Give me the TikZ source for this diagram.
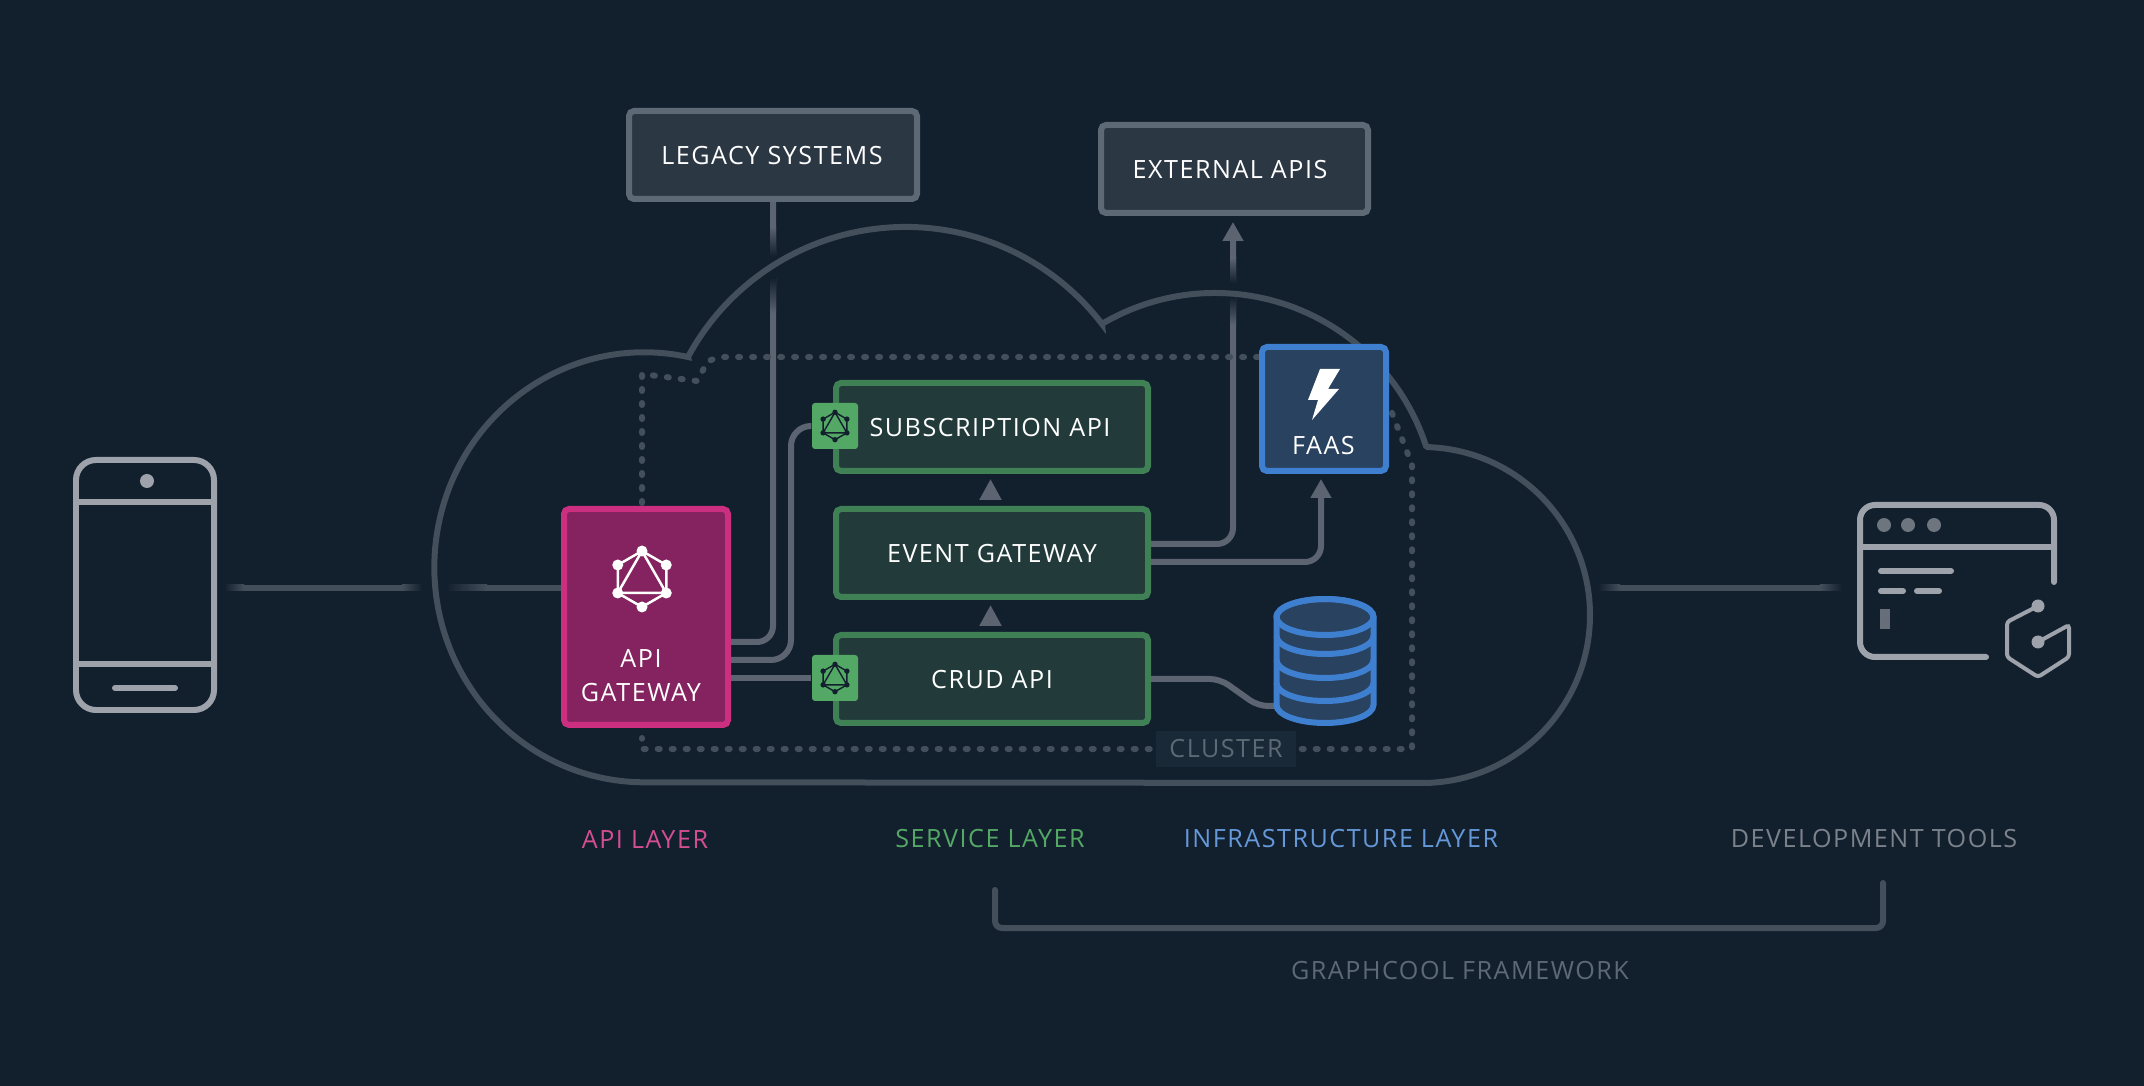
\documentclass[tikz,border=0pt]{standalone}
\usepackage{xcolor}
\usepackage{fontspec}
\usepackage{tikz}
\usetikzlibrary{arrows.meta,calc,backgrounds}
\setmainfont[LetterSpace=6]{Open Sans}

\definecolor{bgdark}{HTML}{121F2D}
\definecolor{edgegray}{HTML}{434F5A}
\definecolor{wiregray}{HTML}{5B6470}
\definecolor{icongray}{HTML}{9EA3AB}
\definecolor{svcline}{HTML}{3F8155}
\definecolor{svcfill}{HTML}{223B3A}
\definecolor{badgegreen}{HTML}{54A866}
\definecolor{apiline}{HTML}{CC2F80}
\definecolor{apifill}{HTML}{842360}
\definecolor{infraline}{HTML}{3F7FCF}
\definecolor{infrafill}{HTML}{29425F}
\definecolor{extline}{HTML}{5D6A75}
\definecolor{extfill}{HTML}{2C3744}
\definecolor{clusterfill}{HTML}{1A2937}

\begin{document}
\begin{tikzpicture}[
  font=\fontsize{7.15}{9.7}\selectfont, >={Triangle[length=0.19cm,width=0.2cm]},
  svcbox/.style={draw=svcline, fill=svcfill, line width=0.06cm, rounded corners=0.05cm, text=white,
                 minimum width=3.12cm, minimum height=0.88cm, inner sep=0pt},
  extbox/.style={draw=extline, fill=extfill, line width=0.06cm, rounded corners=0.05cm, text=white,
                 minimum height=0.88cm, inner sep=0pt},
  apibox/.style={draw=apiline, fill=apifill, line width=0.06cm, rounded corners=0.05cm,
                 minimum width=1.64cm, minimum height=2.16cm},
  faasbox/.style={draw=infraline, fill=infrafill, line width=0.06cm, rounded corners=0.05cm,
                 minimum width=1.24cm, minimum height=1.24cm},
  badge/.style={fill=badgegreen, rounded corners=0.03cm, minimum width=0.46cm, minimum height=0.46cm, inner sep=0pt},
  boxtext/.style={text=white, align=center, inner sep=0pt},
  layer/.style={inner sep=0pt},
  wire/.style={draw=wiregray, line width=0.06cm},
  hop/.style={draw=wiregray, line width=0.06cm, -{Triangle[length=0.21cm,width=0.21cm]}, shorten <=0.07cm, shorten >=0.05cm},
  edgeline/.style={draw=edgegray, line width=0.06cm},
  cloudline/.style={draw=edgegray, line width=0.06cm, miter limit=10},
  dotline/.style={draw=edgegray, line width=0.06cm, line cap=round, dash pattern=on 0.02cm off 0.12cm},
  icon/.style={draw=icongray, line width=0.06cm, line cap=round},
  dbline/.style={draw=infraline, line width=0.06cm},
  qlbig/.style={white, line width=0.025cm},
  qlsmall/.style={bgdark, line width=0.014cm, scale=0.49},
  qlmark/.pic={
    \draw (90:0.28) -- (30:0.28) -- (-30:0.28) -- (-90:0.28) -- (-150:0.28) -- (150:0.28) -- cycle;
    \draw (90:0.28) -- (-30:0.28) -- (-150:0.28) -- cycle;
    \fill (90:0.28) circle (0.055) (30:0.28) circle (0.055) (-30:0.28) circle (0.055)
          (-90:0.28) circle (0.055) (-150:0.28) circle (0.055) (150:0.28) circle (0.055);
  },
]
% nodes
\node[draw=icongray, line width=0.06cm, rounded corners=0.2cm, minimum width=1.38cm, minimum height=2.5cm] (phone) at (1.45,-5.85) {};
\node[apibox]  (gateway) at (6.46,-6.17) {};
\node[svcbox]  (sub)  at (9.92,-4.27) {};
\node[svcbox]  (evt)  at (9.92,-5.53) {};
\node[svcbox]  (crud) at (9.92,-6.79) {};
\node[extbox, minimum width=2.88cm] (legacy) at (7.73,-1.55) {};
\node[extbox, minimum width=2.67cm] (ext)    at (12.345,-1.69) {};
\node[faasbox] (faas) at (13.24,-4.09) {};
\node[badge]   (subbadge)  at (8.35,-4.26) {};
\node[badge]   (crudbadge) at (8.35,-6.78) {};
\node[minimum width=0.97cm, minimum height=1.2cm, inner sep=0pt] (db) at (13.25,-6.6) {};

\coordinate (phoneport) at (2.24,-5.88);
\coordinate (cloudport) at (15.98,-5.88);
\coordinate (toolsport) at (18.42,-5.88);
\coordinate (braceleft) at (9.95,-8.9);
\coordinate (braceright) at (18.83,-8.83);

\begin{scope}[on background layer]
\path[use as bounding box, fill=bgdark] (0,0) rectangle (21.44,-10.86);

% connectors
\draw[edgeline] (phoneport) -- (gateway.west |- phoneport);
\draw[edgeline] (cloudport) -- (toolsport);
\draw[wire, rounded corners=0.16cm] (legacy.south) |- ([yshift=-0.25cm]gateway.east);
\draw[wire, rounded corners=0.2cm] ([yshift=-0.43cm]gateway.east) -- (7.91,-6.6) -- (7.91,-4.26) -- (subbadge.west);
\draw[wire] ([yshift=-0.61cm]gateway.east) -- (crudbadge.west);
\draw[wire, rounded corners=0.16cm, ->, shorten >=0.06cm] ([yshift=0.09cm]evt.east) -| ([xshift=-0.015cm]ext.south);
\draw[wire, rounded corners=0.16cm, ->, shorten >=0.05cm] ([yshift=-0.09cm]evt.east) -| ([xshift=-0.03cm]faas.south);
\draw[wire, rounded corners=0.1cm] (crud.east) -- (12.2,-6.79) -- (12.58,-7.06) -- (db.west |- 0,-7.06);
\draw[hop] ([xshift=-0.015cm]crud.north) -- ([xshift=-0.015cm]evt.south);
\draw[hop] ([xshift=-0.015cm]evt.north) -- ([xshift=-0.015cm]sub.south);

% fades where the lines cross the cloud
\shade[left color=bgdark, right color=edgegray] (2.24,-5.85) rectangle (2.44,-5.91);
\shade[left color=edgegray, right color=bgdark] (4.02,-5.85) rectangle (4.22,-5.91);
\fill[bgdark] (4.22,-5.84) rectangle (4.46,-5.92);
\shade[left color=bgdark, right color=edgegray] (4.46,-5.85) rectangle (4.87,-5.91);
\shade[left color=bgdark, right color=edgegray] (15.98,-5.85) rectangle (16.2,-5.91);
\shade[left color=edgegray, right color=bgdark] (18.2,-5.85) rectangle (18.42,-5.91);
\shade[top color=wiregray, bottom color=bgdark] (7.7,-2.27) rectangle (7.76,-2.56);
\fill[bgdark] (7.69,-2.56) rectangle (7.77,-2.78);
\shade[top color=bgdark, bottom color=wiregray] (7.7,-2.78) rectangle (7.76,-3.13);
\shade[top color=wiregray, bottom color=bgdark] (12.3,-2.58) rectangle (12.36,-2.83);
\fill[bgdark] (12.29,-2.83) rectangle (12.37,-2.97);
\shade[top color=bgdark, bottom color=wiregray] (12.3,-2.97) rectangle (12.36,-3.25);

% cloud
\draw[cloudline] (6.88,-3.57) arc[start angle=78, end angle=270, x radius=2.1, y radius=2.15]
  -- (14.22,-7.83) arc[start angle=-90, end angle=88, radius=1.68]
  -- (14.26,-4.46) arc[start angle=18.1, end angle=120.6, radius=2.22]
  -- (11.02,-3.24) arc[start angle=37.4, end angle=151.7, radius=2.472] -- cycle;

% cluster
\draw[dotline] (6.42,-5.03) -- (6.42,-3.74) -- (6.97,-3.81) -- (7.08,-3.61) -- (7.2,-3.57) -- (faas.west |- 0,-3.57);
\draw[dotline] (13.92,-4.13) -- (14.12,-4.65) -- (14.12,-7.49) -- (6.42,-7.49) -- (6.42,-7.38);
\end{scope}

\node[fill=clusterfill, text=extline, minimum width=1.4cm, minimum height=0.36cm, inner sep=0pt] (cluster) at (12.26,-7.49) {CLUSTER};

% texts
\node[boxtext] (legacytext) at (7.72,-1.56) {LEGACY SYSTEMS};
\node[boxtext] (exttext)    at (12.3,-1.7)  {EXTERNAL APIS};
\node[boxtext] (subtext)    at (9.9,-4.28)  {SUBSCRIPTION API};
\node[boxtext] (evttext)    at (9.92,-5.54) {EVENT GATEWAY};
\node[boxtext] (crudtext)   at (9.92,-6.8)  {CRUD API};
\node[boxtext] (apitext)    at (6.41,-6.76) {API\\GATEWAY};
\node[boxtext] (faastext)   at (13.235,-4.46) {FAAS};

\node[layer, text=apiline!85!white]     (apilayer)   at (6.45,-8.39)  {API LAYER};
\node[layer, text=badgegreen]           (svclayer)   at (9.9,-8.39)   {SERVICE LAYER};
\node[layer, text=infraline!80!white]   (infralayer) at (13.41,-8.39) {INFRASTRUCTURE LAYER};
\node[layer, text=icongray!75!bgdark]   (devlayer)   at (18.74,-8.39) {DEVELOPMENT TOOLS};
\node[layer, text=extline]              (framework)  at (14.6,-9.71)  {GRAPHCOOL FRAMEWORK};

% framework bracket
\draw[edgeline, rounded corners=0.07cm, line cap=round] (braceleft) |- (14,-9.28) -| (braceright);

% marks
\pic[qlbig] at (6.42,-5.79) {qlmark};
\pic[qlsmall] at (subbadge) {qlmark};
\pic[qlsmall] at (crudbadge) {qlmark};
\fill[white] (13.2,-3.69) -- (13.4,-3.69) -- (13.28,-3.89) -- (13.39,-3.89) -- (13.12,-4.2) -- (13.18,-4) -- (13.08,-4) -- cycle;

% database
\path[fill=infrafill, dbline] (12.765,-6.17) -- (12.765,-7.05) arc[start angle=180, end angle=360, x radius=0.485, y radius=0.18]
  -- (13.735,-6.17) arc[start angle=0, end angle=180, x radius=0.485, y radius=0.18] -- cycle;
\draw[dbline] (13.25,-6.17) ellipse[x radius=0.485, y radius=0.18];
\draw[dbline] (12.765,-6.36) arc[start angle=180, end angle=360, x radius=0.485, y radius=0.18];
\draw[dbline] (12.765,-6.6) arc[start angle=180, end angle=360, x radius=0.485, y radius=0.18];
\draw[dbline] (12.765,-6.83) arc[start angle=180, end angle=360, x radius=0.485, y radius=0.18];

% phone
\draw[icon] (0.76,-5.02) -- (2.14,-5.02);
\draw[icon] (0.76,-6.64) -- (2.14,-6.64);
\draw[icon] (1.15,-6.88) -- (1.75,-6.88);
\fill[icongray] (1.47,-4.81) circle (0.07);

% development tools
\draw[icon, rounded corners=0.15cm] (20.54,-5.82) -- (20.54,-5.05) -- (18.6,-5.05) -- (18.6,-6.57) -- (19.86,-6.57);
\draw[icon] (18.6,-5.47) -- (20.54,-5.47);
\fill[icongray!65!bgdark] (18.84,-5.25) circle (0.07) (19.08,-5.25) circle (0.07) (19.34,-5.25) circle (0.07);
\draw[icon] (18.81,-5.71) -- (19.51,-5.71);
\draw[icon] (18.81,-5.91) -- (19.03,-5.91);
\draw[icon] (19.17,-5.91) -- (19.39,-5.91);
\fill[icongray!60!bgdark] (18.8,-6.09) rectangle (18.9,-6.29);
\draw[icongray, line width=0.04cm, rounded corners=0.03cm] (20.38,-6.06) -- (20.07,-6.22) -- (20.07,-6.57) -- (20.38,-6.77) -- (20.69,-6.57) -- (20.69,-6.25) -- (20.38,-6.42);
\fill[icongray] (20.38,-6.06) circle (0.065) (20.38,-6.42) circle (0.065);
\end{tikzpicture}
\end{document}
